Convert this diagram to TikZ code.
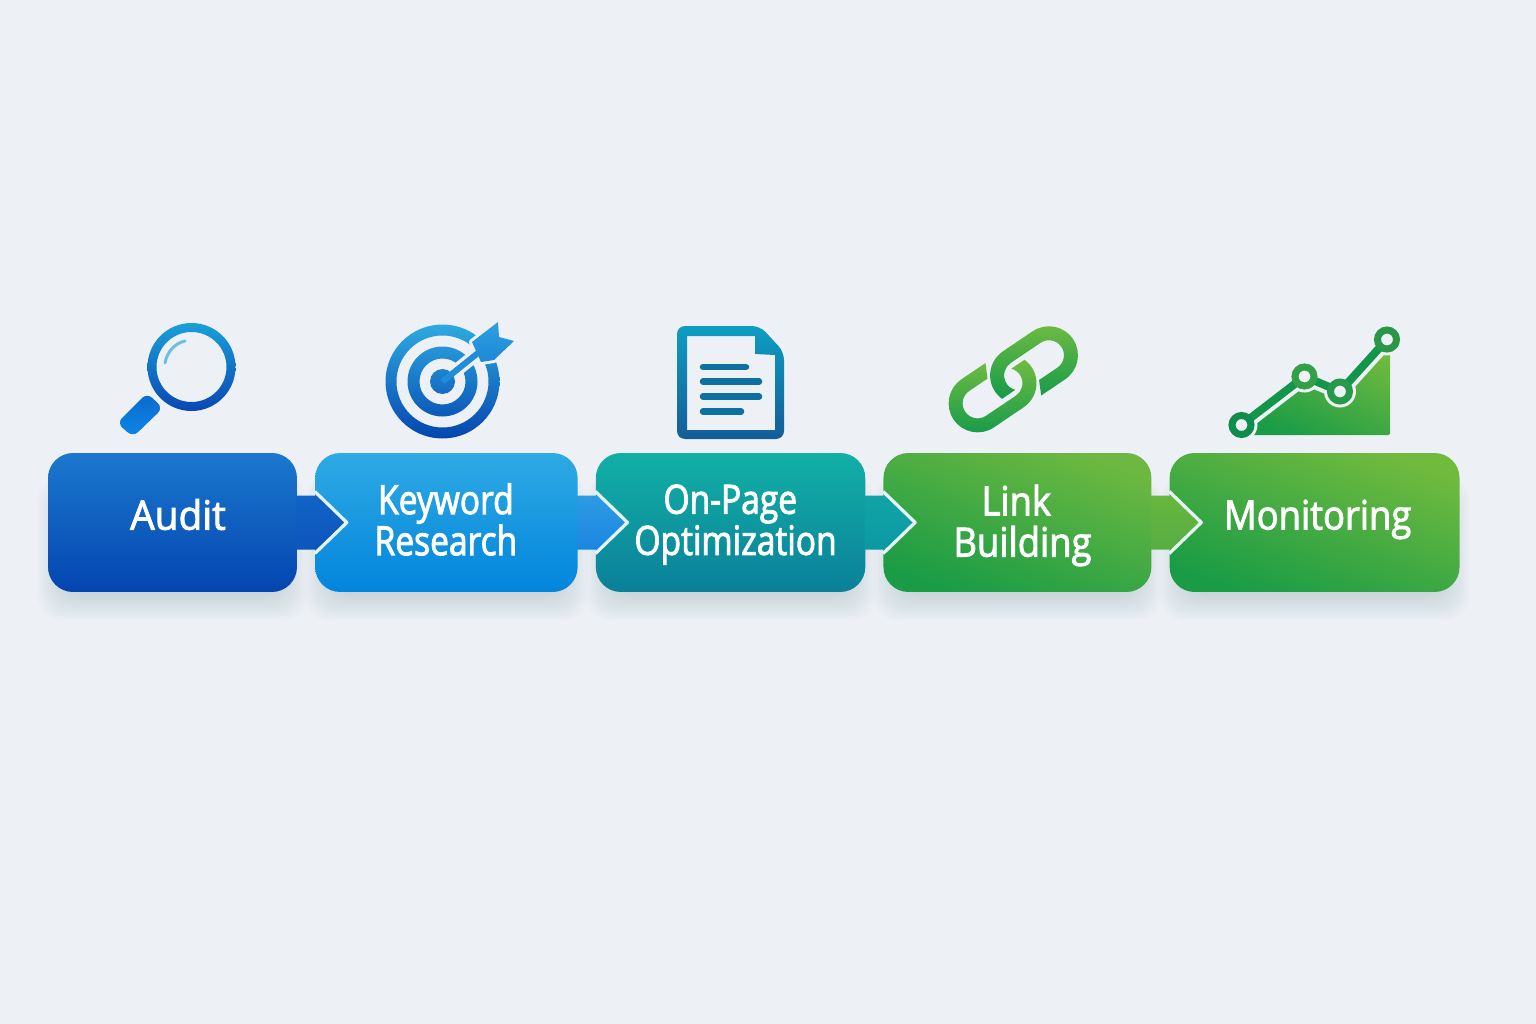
\documentclass[tikz,border=0pt]{standalone}
\usepackage{fontspec}
\usepackage{tikz}
\usetikzlibrary{positioning}
\usetikzlibrary{calc}
\usetikzlibrary{backgrounds}

\newfontfamily\stepfont{Open Sans}[FakeBold=2.2, FakeStretch=0.9]
\newfontfamily\steptightfont{Open Sans}[FakeBold=2.2, FakeStretch=0.83]
\newfontfamily\stepwidefont{Open Sans}[FakeBold=2.2, FakeStretch=0.96]

\definecolor{pagebg}{HTML}{EDF1F5}
\definecolor{shadowblue}{HTML}{5A6F96}
\definecolor{chevline}{HTML}{E6F3F5}

% tab with its chevron, from one box into the next
\newcommand{\steptab}[4]{
    \shade[top color=#3, bottom color=#4]
    ($(#1.east)+(-1,-27)$) -- ($(#1.east)+(21,-27)$) -- ($(#2.west)+(32,0)$)
    -- ($(#1.east)+(21,27)$) -- ($(#1.east)+(-1,27)$) -- cycle;
    \draw[chevron] ($(#2.west)+(0,-31)$) -- ($(#2.west)+(32,0)$) -- ($(#2.west)+(0,31)$);
}

\begin{document}
\begin{tikzpicture}[
                x=0.02cm, y=-0.02cm,
                node distance=0.35cm,
                stepbox/.style={rounded corners=0.5cm, minimum height=2.78cm, inner sep=0pt},
                steplabel/.style={text=white, align=center, font=\stepfont\fontsize{23}{23.4}\selectfont, inner sep=0pt},
                tightlabel/.style={steplabel, font=\steptightfont\fontsize{23}{23.4}\selectfont},
                widelabel/.style={steplabel, font=\stepwidefont\fontsize{23}{23.4}\selectfont},
                chevron/.style={draw=chevline, line width=0.065cm, line join=round},
                halo/.style={draw=pagebg, line join=round}
            ]

            \useasboundingbox (0,0) rectangle (1536,1024);

            % Define nodes
            \node[stepbox, minimum width=4.98cm, top color={rgb,255:red,27;green,120;blue,206}, bottom color={rgb,255:red,4;green,69;blue,176}] (audit) at (172.5,522.5) {};
            \node[stepbox, minimum width=5.25cm, right=of audit, top color={rgb,255:red,46;green,170;blue,228}, bottom color={rgb,255:red,2;green,133;blue,220}] (keyword) {};
            \node[stepbox, minimum width=5.39cm, right=of keyword, top color={rgb,255:red,18;green,176;blue,166}, bottom color={rgb,255:red,10;green,128;blue,153}] (onpage) {};
            \node[stepbox, minimum width=5.36cm, right=of onpage, shading=axis, top color={rgb,255:red,108;green,184;blue,64}, bottom color={rgb,255:red,26;green,156;blue,70}, shading angle=-20] (linkbox) {};
            \node[stepbox, minimum width=5.8cm, right=of linkbox, shading=axis, top color={rgb,255:red,112;green,186;blue,62}, bottom color={rgb,255:red,26;green,156;blue,70}, shading angle=-20] (monitor) {};

            % Background and soft shadows
            \begin{scope}[on background layer]
                \fill[pagebg] (0,0) rectangle (1536,1024);
                \foreach \boxname in {audit,keyword,onpage,linkbox,monitor}
                    \foreach \s in {0,2,...,26}
                        \fill[shadowblue, opacity=0.014, rounded corners=0.5cm]
                        ($(\boxname.north west)+(16-\s,50-\s)$) rectangle ($(\boxname.south east)+(-16+\s,2+\s)$);
            \end{scope}

            % Tabs connecting boxes
            \definecolor{tabatop}{HTML}{1263C6}\definecolor{tababot}{HTML}{0C55BC}
            \definecolor{tabbtop}{HTML}{2E9BE4}\definecolor{tabbbot}{HTML}{1A86E0}
            \definecolor{tabctop}{HTML}{11A4A6}\definecolor{tabcbot}{HTML}{0C98A4}
            \definecolor{tabdtop}{HTML}{68B63F}\definecolor{tabdbot}{HTML}{56AE42}
            \steptab{audit}{keyword}{tabatop}{tababot}
            \steptab{keyword}{onpage}{tabbtop}{tabbbot}
            \steptab{onpage}{linkbox}{tabctop}{tabcbot}
            \steptab{linkbox}{monitor}{tabdtop}{tabdbot}

            % Labels
            \node[widelabel] (auditlabel) at ($(audit)+(5.5,-8)$) {Audit};
            \node[tightlabel] (keywordlabel) at ($(keyword)+(-0.5,-3)$) {Keyword\\Research};
            \node[tightlabel] (onpagelabel) at ($(onpage)+(5,2)$) {On-Page\kern 6pt\\Optimization};
            \node[steplabel] (linklabel) at ($(linkbox)+(5,3)$) {Link\kern 7pt\\Building};
            \node[steplabel] (monitorlabel) at ($(monitor)+(3,-3)$) {Monitoring};

            % Magnifier
            \shade[even odd rule, top color={rgb,255:red,24;green,160;blue,216}, bottom color={rgb,255:red,10;green,71;blue,179}]
            (191.5,367) circle (44) (191.5,367) circle (35);
            \draw[draw={rgb,255:red,110;green,190;blue,228}, line width=0.06cm, line cap=round]
            (185,341) .. controls (175,343) and (167,352) .. (165,363);
            \shade[rounded corners=0.14cm, top color={rgb,255:red,10;green,105;blue,205}, bottom color={rgb,255:red,12;green,135;blue,232}]
            (147,393) -- (163,408) -- (133,437) -- (117,423) -- cycle;

            % Target
            \shade[even odd rule, top color={rgb,255:red,46;green,170;blue,224}, bottom color={rgb,255:red,4;green,69;blue,176}]
            (442.5,381.5) circle (57) (442.5,381.5) circle (46) (442.5,381.5) circle (35)
            (442.5,381.5) circle (23) (442.5,381.5) circle (12.5);
            \draw[halo, line width=0.26cm] (452,374) -- (478,353);
            \draw[halo, fill=pagebg, line width=0.12cm] (472,342) -- (498,322) -- (499,337) -- (514,341) -- (494,360) -- (481,362) -- cycle;
            \draw[draw={rgb,255:red,32;green,140;blue,220}, line width=0.12cm] (442.5,381.5) -- (478,353);
            \shade[top color={rgb,255:red,44;green,160;blue,224}, bottom color={rgb,255:red,30;green,136;blue,216}]
            (472,342) -- (498,322) -- (499,337) -- (514,341) -- (494,360) -- (481,362) -- cycle;

            % Document
            \shade[even odd rule, rounded corners=0.16cm, top color={rgb,255:red,14;green,158;blue,194}, bottom color={rgb,255:red,20;green,92;blue,152}]
            (677,326) -- (760,326) -- (784,352) -- (784,439) -- (677,439) -- cycle
            [sharp corners] (687,336) -- (755,336) -- (755,354) -- (775,355) -- (775,430) -- (687,430) -- cycle;
            \draw[draw={rgb,255:red,12;green,112;blue,160}, line width=0.13cm, line cap=round]
            (703,367) -- (746,367) (703,381.5) -- (759,381.5) (703,396.5) -- (759,396.5) (703,411.5) -- (741,411.5);

            % Chain
            \begin{scope}[shift={(1013.3,379.3)}, rotate=34]
                \shade[top color={rgb,255:red,112;green,188;blue,66}, bottom color={rgb,255:red,20;green,154;blue,74}]
                (-14,-29) -- (-43,-29) arc[start angle=-90, end angle=-270, radius=29]
                -- (-7,29) arc[start angle=90, end angle=-20, radius=29]
                -- (4.3,-9.84) arc[start angle=-41, end angle=90, radius=15]
                -- (-43,15) arc[start angle=90, end angle=270, radius=15]
                -- (-21,-15) -- cycle;
                \shade[top color={rgb,255:red,112;green,188;blue,66}, bottom color={rgb,255:red,20;green,154;blue,74}]
                (14,29) -- (43,29) arc[start angle=90, end angle=-90, radius=29]
                -- (7,-29) arc[start angle=-90, end angle=-200, radius=29]
                -- (-4.3,9.84) arc[start angle=139, end angle=270, radius=15]
                -- (43,-15) arc[start angle=-90, end angle=90, radius=15]
                -- (21,15) -- cycle;
            \end{scope}

            % Chart
            \coordinate (pa) at (1241.5,425);
            \coordinate (pb) at (1304.5,376.5);
            \coordinate (pc) at (1340,391.5);
            \coordinate (pd) at (1387,339.5);
            \shade[rounded corners=0.04cm, top color={rgb,255:red,112;green,186;blue,62}, bottom color={rgb,255:red,26;green,156;blue,70}, shading=axis, shading angle=-25]
            (pa) -- (pb) -- (pc) -- (pd) -- (1390,340) -- (1390,435) -- (1250,435) -- cycle;
            \draw[halo, line width=0.32cm] (pa) -- (pb) -- (pc) -- (pd);
            \fill[pagebg] (pa) circle (16) (pb) circle (16) (pc) circle (16) (pd) circle (16);
            \draw[draw={rgb,255:red,20;green,150;blue,74}, line width=0.16cm] (pa) -- (pb) -- (pc) -- (pd);
            \fill[pagebg] (pa) circle (7) (pb) circle (7) (pc) circle (7) (pd) circle (7);
            \draw[draw={rgb,255:red,16;green,140;blue,76}, line width=0.14cm] (pa) circle (9.5);
            \draw[draw={rgb,255:red,50;green,160;blue,70}, line width=0.14cm] (pb) circle (9.5);
            \draw[draw={rgb,255:red,38;green,154;blue,72}, line width=0.14cm] (pc) circle (9.5);
            \draw[draw={rgb,255:red,42;green,150;blue,72}, line width=0.14cm] (pd) circle (9.5);

        \end{tikzpicture}
\end{document}
